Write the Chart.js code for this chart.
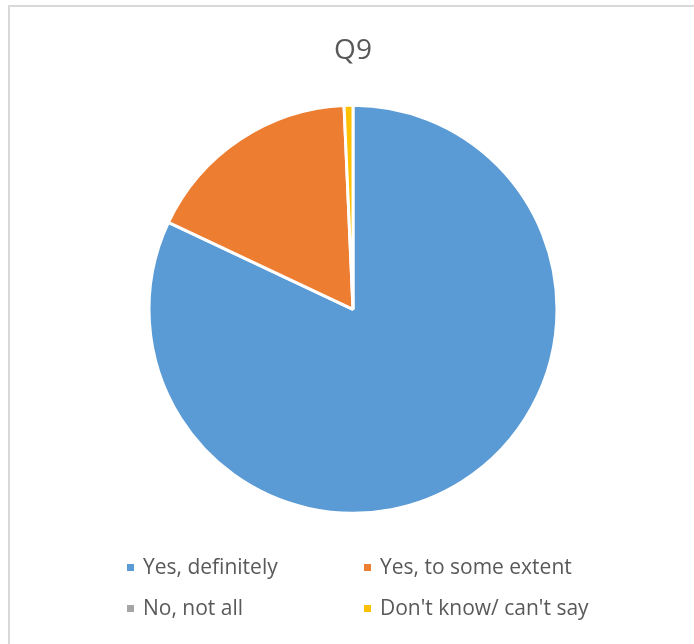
<!DOCTYPE html>
<html>
<head>
<meta charset="utf-8">
<script src="https://cdn.jsdelivr.net/npm/chart.js@4/dist/chart.umd.min.js"></script>
<style>
  html, body { margin: 0; padding: 0; background: #fff; }
  #wrap { position: relative; width: 694px; height: 644px; overflow: hidden; }
  #frame { position: absolute; left: 8px; top: 5px; right: -10px; bottom: -10px;
           border-top: 2px solid #d9d9d9; border-left: 2px solid #d9d9d9; }
  #myChart { position: absolute; left: 0; top: 0; }
  .leg { position: absolute; font-family: "Open Sans", sans-serif; font-size: 21px;
         color: #595959; white-space: nowrap; line-height: 24px; }
  .leg span { display: inline-block; width: 7px; height: 7px; margin-right: 9px;
              vertical-align: middle; position: relative; top: -1px; }
</style>
</head>
<body>
<div id="wrap">
  <div id="frame"></div>
  <canvas id="myChart" width="694" height="644"></canvas>
  <div id="legend"></div>
</div>
<script>
var labels = ["Yes, definitely", "Yes, to some extent", "No, not all", "Don't know/ can't say"];
var values = [82.0, 17.3, 0, 0.7];
var colors = ["#5B9BD5", "#ED7D31", "#A5A5A5", "#FFC000"];

// legend spots, two columns
var legendX = [127, 364];
var legendY = [554, 595];

var legend = document.getElementById("legend");
for (var i = 0; i < labels.length; i++) {
    var item = document.createElement("div");
    item.className = "leg";
    item.style.left = legendX[i % 2] + "px";
    item.style.top = legendY[Math.floor(i / 2)] + "px";
    item.innerHTML = '<span style="background:' + colors[i] + '"></span>';
    item.appendChild(document.createTextNode(labels[i]));
    legend.appendChild(item);
}

var ctx = document.getElementById("myChart").getContext("2d");
var myPieChart = new Chart(ctx, {
    type: 'pie',
    data: {
        labels: labels,
        datasets: [{
            data: values,
            backgroundColor: colors,
            borderColor: "#ffffff",
            borderWidth: 3
        }]
    },
    options: {
        responsive: false,
        animation: false,
        radius: 204,
        layout: { padding: { left: 12, right: 0, top: 0, bottom: 97 } },
        plugins: {
            legend: { display: false },
            tooltip: { enabled: false },
            title: {
                display: true,
                text: "Q9",
                color: "#595959",
                font: { family: "Open Sans", size: 28, weight: "normal" },
                padding: { top: 34, bottom: 4 }
            }
        }
    }
});
</script>
</body>
</html>
